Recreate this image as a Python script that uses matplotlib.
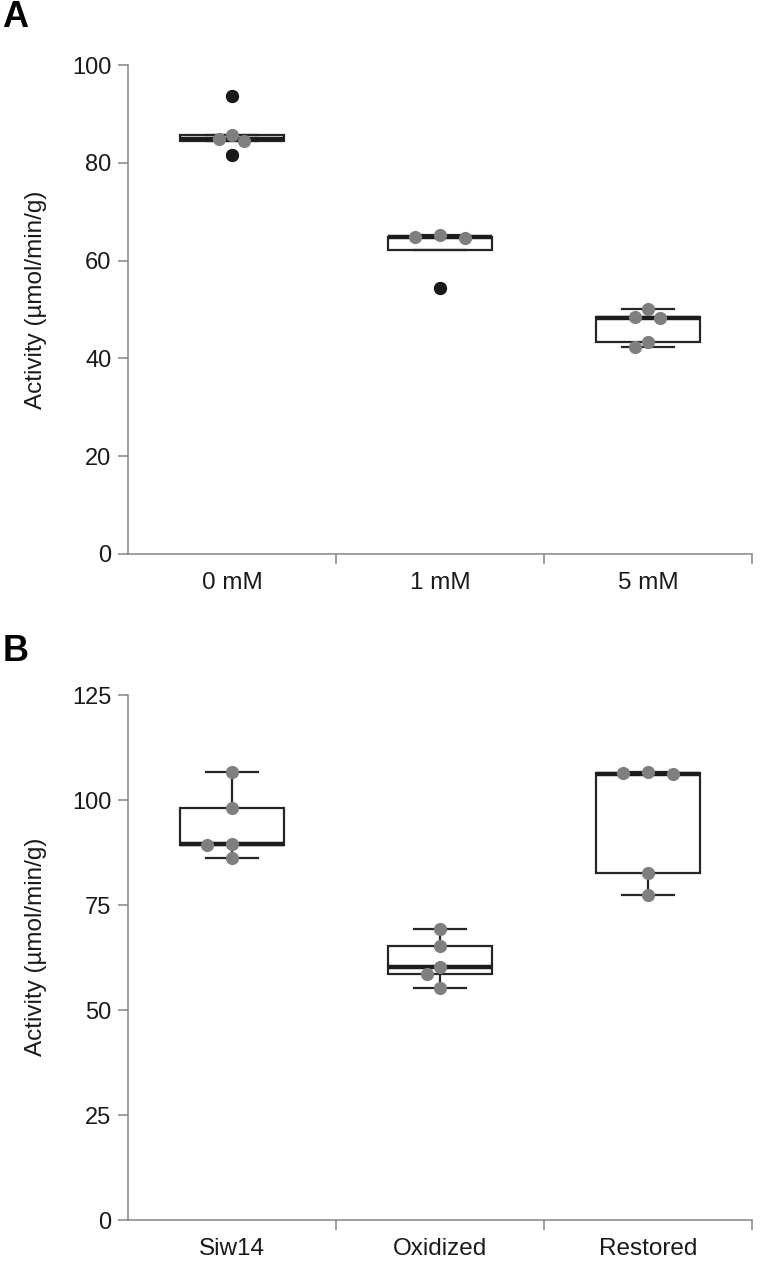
import numpy as np
import matplotlib.pyplot as plt

plt.rcParams['font.family'] = ['Liberation Sans', 'DejaVu Sans']

# panel A: activity vs concentration
conc_labels = ['0 mM', '1 mM', '5 mM']
conc_0 = [81.6, 84.4, 84.9, 85.7, 93.6]
conc_1 = [54.3, 64.7, 64.8, 65.3]
conc_5 = [42.3, 43.4, 48.2, 48.4, 50.1]

# panel B: activity by enzyme state
form_labels = ['Siw14', 'Oxidized', 'Restored']
siw14 = [86.1, 89.4, 89.6, 98.2, 106.6]
oxidized = [55.3, 58.5, 60.3, 65.3, 69.3]
restored = [77.5, 82.7, 106.2, 106.4, 106.6]

DARK = '#262626'
AXC = '#858585'


def swarm(ax, vals, center, d=13.0, step=12.5):
    # simple beeswarm in pixel space
    pts = ax.transData.transform([(center, v) for v in vals])
    inv = ax.transData.inverted()
    xs = np.zeros(len(vals))
    placed = []
    for i in np.argsort(vals)[::-1]:
        y = pts[i, 1]
        for k in [0, -1, 1, -2, 2, -3, 3]:
            x = pts[i, 0] + k * step
            if all(np.hypot(x - px, y - py) >= d for px, py in placed):
                break
        placed.append((x, y))
        xs[i] = inv.transform((x, y))[0]
    return xs


def panel(ax, groups, labels, ymax, ystep):
    ax.set_xlim(-0.5, 2.5)
    ax.set_ylim(0, ymax)
    ax.boxplot(groups, positions=[0, 1, 2], widths=0.5, patch_artist=True,
               capwidths=0.25,
               boxprops=dict(facecolor='white', edgecolor=DARK, lw=1.6),
               medianprops=dict(color='#1c1c1c', lw=3.2),
               whiskerprops=dict(color=DARK, lw=1.6),
               capprops=dict(color=DARK, lw=1.6),
               flierprops=dict(marker='o', markerfacecolor='#1a1a1a',
                               markeredgecolor='none', markersize=9.5,
                               zorder=4))
    for i, vals in enumerate(groups):
        xs = swarm(ax, vals, i)
        ax.plot(xs, vals, 'o', color='#7f7f7f', ms=9.5, mec='none', zorder=3)

    for s in ['top', 'right']:
        ax.spines[s].set_visible(False)
    for s in ['left', 'bottom']:
        ax.spines[s].set_color(AXC)
        ax.spines[s].set_linewidth(1.1)

    ax.set_yticks(np.arange(0, ymax + 1, ystep))
    ax.tick_params(axis='y', length=7, width=1.1, color=AXC, pad=5,
                   labelsize=17, labelcolor='#1a1a1a')
    ax.set_xticks([0.5, 1.5, 2.5])
    ax.set_xticklabels([])
    ax.set_xticks([0, 1, 2], minor=True)
    ax.set_xticklabels(labels, minor=True)
    ax.tick_params(axis='x', which='major', length=7, width=1.1, color=AXC)
    ax.tick_params(axis='x', which='minor', length=0, pad=13,
                   labelsize=17.5, labelcolor='#1a1a1a')
    ax.set_ylabel('Activity (µmol/min/g)', fontsize=17.5, color='#1a1a1a')
    ax.yaxis.set_label_coords(-0.13, 0.52)


fig = plt.figure(figsize=(7.6, 12.75), dpi=100)
axA = fig.add_axes([0.1684, 0.5655, 0.821, 0.3835])
axB = fig.add_axes([0.1684, 0.0431, 0.821, 0.4118])

panel(axA, [conc_0, conc_1, conc_5], conc_labels, 100, 20)
panel(axB, [siw14, oxidized, restored], form_labels, 125, 25)

fig.text(0.003, 0.986, 'A', fontsize=26, fontweight='bold', va='center')
fig.text(0.003, 0.489, 'B', fontsize=26, fontweight='bold', va='center')

fig.savefig('out.png', dpi=100)
